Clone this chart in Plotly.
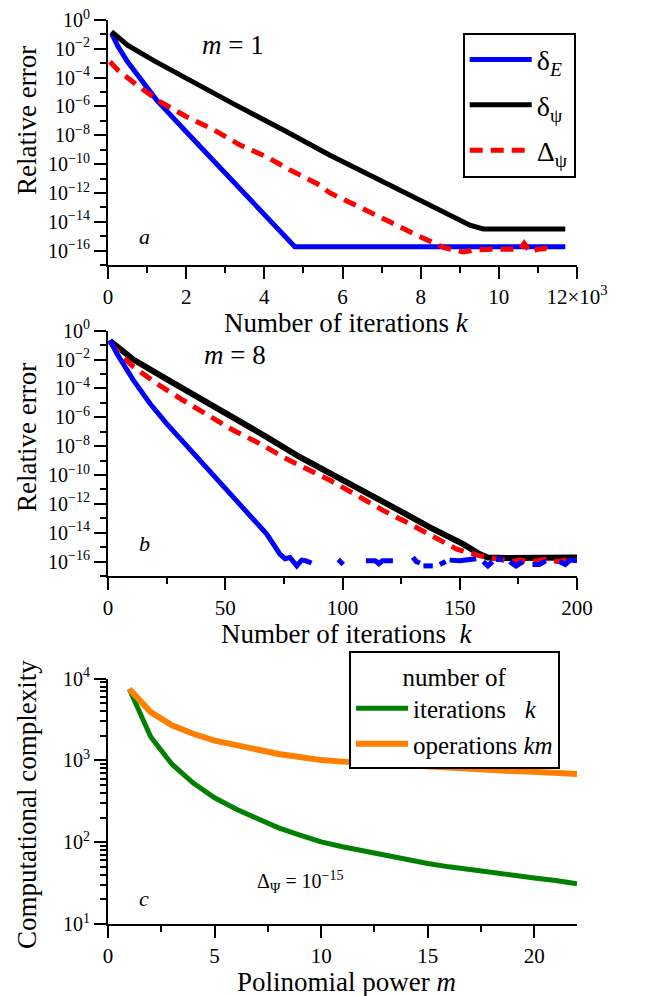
import numpy as np
import plotly.graph_objects as go

# ---------------- data ----------------
# Panel a (m = 1): iterations in units of 10^3, errors as log10 values
a_dE_k = [0.09, 0.25, 0.5, 0.8, 1.245, 2.0, 3.0, 4.0, 4.78, 11.7]
a_dE_log = [-0.93, -1.8, -2.9, -4.0, -5.56, -7.75, -10.6, -13.5, -15.74, -15.74]

a_dpsi_k = [0.09, 0.5, 1.16, 2.0, 3.2, 4.5, 5.68, 7.0, 8.2, 9.26, 9.6, 11.7]
a_dpsi_log = [-0.8, -1.75, -2.8, -4.05, -5.8, -7.65, -9.38, -11.17, -12.8, -14.24, -14.5, -14.5]

a_Dpsi_k = [0.05, 0.26, 0.73, 1.33, 2.01, 2.69, 3.38, 4.06, 4.65, 5.34, 5.68, 6.53, 7.21, 7.9,
            8.4, 8.6, 9.1, 9.4, 9.9, 10.3, 10.55, 10.65, 10.8, 11.0, 11.2, 11.35]
a_Dpsi_log = [-2.9, -3.5, -4.5, -5.67, -6.71, -7.6, -8.68, -9.49, -10.4, -11.34, -12.0, -13.08, -14.0, -14.93,
              -15.6, -15.8, -16.1, -15.95, -15.9, -15.95, -15.9, -15.5, -16.1, -15.9, -15.85, -16.05]

# Panel b (m = 8)
b_dE_k = [0.85, 3.7, 10.8, 17.9, 25, 39.2, 53.4, 67.7, 73.3, 75.5, 77.6, 80.5, 82.6, 84.5, 86.8, None,
          98.2, 100.3, None,
          110, 114, 115.5, 117, 121.5, None,
          130, 131.5, 133, None,
          134.5, 138.5, None,
          141.5, 144, None,
          145.7, 150, 157, None,
          160, 162, 164, None,
          165.5, 168.4, None,
          171.3, 174, 177, None,
          181, 184, 186.7, None,
          192.4, 195, 197, 200]
b_dE_log = [-0.65, -1.57, -3.43, -5.05, -6.44, -9.0, -11.55, -14.1, -15.49, -15.8, -15.72, -16.3, -15.9, -15.95, -16.1, None,
            -15.85, -16.2, None,
            -15.95, -15.95, -16.15, -15.95, -15.95, None,
            -15.7, -16.0, -16.1, None,
            -16.3, -16.3, None,
            -16.2, -16.0, None,
            -15.9, -15.95, -15.8, None,
            -16.0, -16.3, -16.0, None,
            -15.85, -15.85, None,
            -16.0, -16.3, -16.0, None,
            -16.2, -16.2, -15.95, None,
            -16.0, -16.2, -15.9, -15.95]

b_dpsi_k = [0.85, 5, 10.8, 25, 39.2, 53.4, 67.7, 81.9, 94.7, 108.9, 123.1, 137.3, 151.5, 158.6,
            162, 170, 180, 190, 200]
b_dpsi_log = [-0.7, -1.3, -2.0, -3.35, -4.65, -5.98, -7.37, -8.77, -9.85, -11.08, -12.36, -13.63, -14.79, -15.49,
              -15.72, -15.75, -15.72, -15.75, -15.72]

b_Dpsi_k = [1, 5, 10.8, 20.7, 32, 42, 53.4, 64.8, 74.8, 84.7, 94.7, 106, 117.4, 127.4, 137.3, 148.7,
            158.6, 167.2, 172, 176, 181, 186, 192, 197, 200]
b_Dpsi_log = [-0.85, -1.6, -2.5, -3.66, -4.82, -5.75, -6.9, -7.83, -8.77, -9.57, -10.37, -11.4, -12.47, -13.28,
              -14.1, -15.14, -15.6, -15.83, -16.0, -15.9, -16.0, -15.85, -16.0, -15.85, -15.9]

# Panel c: computational complexity vs polynomial power m
c_m = list(range(1, 23))
c_iterations = [7500, 1950, 900, 530, 350, 255, 195, 150, 122, 101, 88, 78, 70, 61, 55, 50, 46, 42, 39, 36.5, 34, 31]
c_operations = [7500, 3900, 2700, 2120, 1750, 1530, 1365, 1200, 1100, 1010, 968, 936, 910, 854, 825, 800, 782,
                756, 741, 730, 714, 682]

# tick labels
a_xtick_vals = [0, 2, 4, 6, 8, 10, 12]
a_xtick_text = ["0", "2", "4", "6", "8", "10", "12×10<sup>3</sup>"]
err_exps = [0, -2, -4, -6, -8, -10, -12, -14, -16]
err_minor_exps = [-1, -3, -5, -7, -9, -11, -13, -15, -17]
c_exps = [1, 2, 3, 4]


def pw(vals):
    return [None if v is None else 10.0 ** v for v in vals]


FONT = "Liberation Serif"
W, H = 659, 996
L, R, T, B = 108, 82, 20, 72
PW, PH = W - L - R, H - T - B


def px_x(px):
    return (px - L) / PW


def px_y(py):
    return (H - B - py) / PH


fig = go.Figure()

# Panel a
fig.add_trace(go.Scatter(x=a_dE_k, y=pw(a_dE_log), mode="lines", name="δ<sub><i>E</i></sub>",
                         line=dict(color="#0000FF", width=5), xaxis="x", yaxis="y",
                         legend="legend", legendgroup="g1"))
fig.add_trace(go.Scatter(x=a_dpsi_k, y=pw(a_dpsi_log), mode="lines", name="δ<sub>ψ</sub>",
                         line=dict(color="#000000", width=5), xaxis="x", yaxis="y",
                         legend="legend", legendgroup="g2"))
fig.add_trace(go.Scatter(x=a_Dpsi_k, y=pw(a_Dpsi_log), mode="lines", name="Δ<sub>ψ</sub>",
                         line=dict(color="#FF0000", width=5, dash="13px,8px"), xaxis="x", yaxis="y",
                         legend="legend", legendgroup="g3"))

# Panel b
fig.add_trace(go.Scatter(x=b_dpsi_k, y=pw(b_dpsi_log), mode="lines", showlegend=False,
                         line=dict(color="#000000", width=6), xaxis="x2", yaxis="y2"))
fig.add_trace(go.Scatter(x=b_Dpsi_k, y=pw(b_Dpsi_log), mode="lines", showlegend=False,
                         line=dict(color="#FF0000", width=5, dash="13px,8px"), xaxis="x2", yaxis="y2"))
fig.add_trace(go.Scatter(x=b_dE_k, y=pw(b_dE_log), mode="lines", showlegend=False, connectgaps=False,
                         line=dict(color="#0000FF", width=5), xaxis="x2", yaxis="y2"))

# Panel c
fig.add_trace(go.Scatter(x=c_m, y=c_iterations, mode="lines", name="iterations   <i>k</i>",
                         line=dict(color="#008000", width=5), xaxis="x3", yaxis="y3", legend="legend2"))
fig.add_trace(go.Scatter(x=c_m, y=c_operations, mode="lines", name="operations <i>km</i>",
                         line=dict(color="#FF8000", width=6), xaxis="x3", yaxis="y3", legend="legend2"))

axis_common = dict(showline=True, linecolor="black", linewidth=2, ticks="outside", ticklen=12,
                   tickwidth=2, tickcolor="black", showgrid=False, zeroline=False, mirror=False,
                   automargin=False, tickfont=dict(family=FONT, size=21, color="black"))
yaxis_common = dict(axis_common, tickfont=dict(family=FONT, size=20, color="black"))

err_tickvals = [10.0 ** e for e in err_exps]
err_ticktext = ["10<sup>%s</sup>" % (str(e).replace("-", "−")) for e in err_exps]
err_minor = [10.0 ** e for e in err_minor_exps]

dom_a = [px_y(265), px_y(20)]
dom_b = [px_y(576), px_y(330.7)]
dom_c = [px_y(924), px_y(678.7)]

c_minor = []
for d in [1, 2, 3]:
    for mlt in range(2, 10):
        c_minor.append(mlt * 10 ** d)

minor_common = dict(tickmode="array", ticks="outside", ticklen=6, tickwidth=2, tickcolor="black")

fig.update_layout(
    template="none",
    width=W, height=H,
    margin=dict(l=L, r=R, t=T, b=B, autoexpand=False),
    paper_bgcolor="white", plot_bgcolor="white",
    font=dict(family=FONT, color="black"),
    xaxis=dict(axis_common, domain=[0, 1], anchor="y", range=[0, 12], tickmode="array",
               tickvals=a_xtick_vals, ticktext=a_xtick_text,
               minor=dict(minor_common, tickvals=[1, 3, 5, 7, 9, 11])),
    yaxis=dict(yaxis_common, domain=dom_a, anchor="x", type="log", range=[-17, 0], tickmode="array",
               tickvals=err_tickvals, ticktext=err_ticktext,
               minor=dict(minor_common, tickvals=err_minor)),
    xaxis2=dict(axis_common, domain=[0, 1], anchor="y2", range=[0, 200], tickmode="array",
                tickvals=[0, 50, 100, 150, 200],
                minor=dict(minor_common, tickvals=[25, 75, 125, 175])),
    yaxis2=dict(yaxis_common, domain=dom_b, anchor="x2", type="log", range=[-17, 0], tickmode="array",
                tickvals=err_tickvals, ticktext=err_ticktext,
                minor=dict(minor_common, tickvals=err_minor)),
    xaxis3=dict(axis_common, domain=[0, 1], anchor="y3", range=[0, 22], tickmode="array",
                tickvals=[0, 5, 10, 15, 20],
                minor=dict(minor_common, tickvals=[2.5, 7.5, 12.5, 17.5])),
    yaxis3=dict(yaxis_common, domain=dom_c, anchor="x3", type="log", range=[1, 4], tickmode="array",
                tickvals=[10.0 ** e for e in c_exps], ticktext=["10<sup>%d</sup>" % e for e in c_exps],
                minor=dict(minor_common, tickvals=c_minor)),
    legend=dict(x=px_x(462.7), y=px_y(32.7), xanchor="left", yanchor="top", bgcolor="white",
                bordercolor="black", borderwidth=2, font=dict(family=FONT, size=28, color="black"),
                tracegroupgap=6, itemwidth=62),
    legend2=dict(x=px_x(349), y=px_y(651), xanchor="left", yanchor="top", bgcolor="white",
                 bordercolor="black", borderwidth=2, font=dict(family=FONT, size=25, color="black"),
                 title=dict(text="number of", side="top center", font=dict(family=FONT, size=25)),
                 itemwidth=52),
)

ann = []


def add_text(text, x, y, size, angle=0):
    ann.append(dict(text=text, x=px_x(x), y=px_y(y), xref="paper", yref="paper", showarrow=False,
                    xanchor="center", yanchor="middle", textangle=angle,
                    font=dict(family=FONT, size=size, color="black")))


add_text("<i>m</i> = 1", 233, 45, 27)
add_text("<i>m</i> = 8", 235, 355, 27)
add_text("<i>a</i>", 144, 236, 22)
add_text("<i>b</i>", 144, 543, 22)
add_text("<i>c</i>", 144, 898, 22)
add_text("Δ<sub>Ψ</sub> = 10<sup>−15</sup>", 300, 882, 20)
add_text("Number of iterations <i>k</i>", 346, 323, 27)
add_text("Number of iterations  <i>k</i>", 346, 634, 27)
add_text("Polinomial power <i>m</i>", 346, 982, 27)
add_text("Relative error", 27, 121, 27, -90)
add_text("Relative error", 27, 438, 27, -90)
add_text("Computational complexity", 27, 805, 27, -90)
fig.update_layout(annotations=ann)

fig.write_html("out.html", config={"displayModeBar": False},
               post_script="document.body.style.margin='0px';")
